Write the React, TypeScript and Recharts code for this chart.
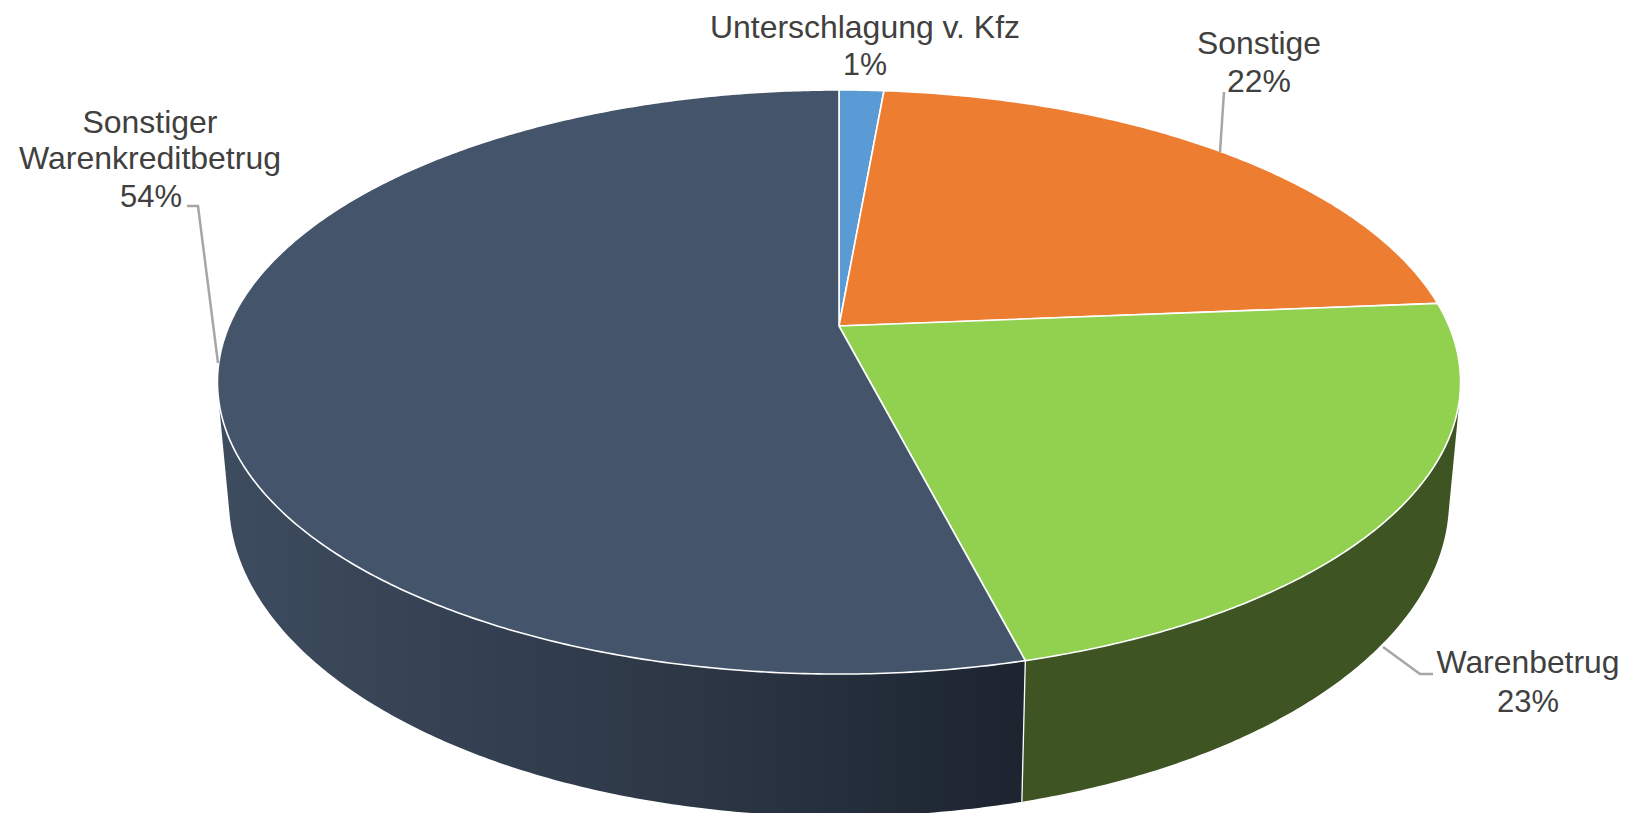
import React from "react";
import { PieChart, Pie } from "recharts";

const categories = ["Unterschlagung v. Kfz", "Sonstige", "Warenbetrug", "Sonstiger Warenkreditbetrug"];
const values = [1.4, 22.3, 22.3, 54.0];
const percentLabels = ["1%", "22%", "23%", "54%"];
const topColors = ["#5b9bd5", "#ed7d31", "#92d050", "#44546a"];
const wallColors = ["#375d81", "#8f4c1d", "#3e5423", "url(#navyWall)"];

// Label layout, per slice: text lines with centre, baseline and width, and the leader line.
const labelLayout = [
  { lines: [["Unterschlagung v. Kfz", 865, 38, 310], ["1%", 865, 75, 44]], leader: "" },
  { lines: [["Sonstige", 1259, 54, 124], ["22%", 1259, 92, 64]], leader: "1224,92 1220,152" },
  { lines: [["Warenbetrug", 1528, 673, 183], ["23%", 1528, 712, 62]], leader: "1383,647 1420,674 1433,674" },
  {
    lines: [["Sonstiger", 150, 133, 135], ["Warenkreditbetrug", 150, 169, 262], ["54%", 151, 207, 62]],
    leader: "187,206 198,206 218,363",
  },
];

const rows = categories.map((name, i) => ({
  name,
  value: values[i],
  fill: topColors[i],
  wall: wallColors[i],
  percent: percentLabels[i],
}));

const CX = 839;
const CY = 326;
const RADIUS = 300;
const K = -0.1918;
// Perspective of the top disc and of the smaller, lower rim.
const TOP = { dy: 0, q: 610, p: 281.3 };
const BOTTOM = { dy: 113.5, q: 598.7, p: 304.5 };

type Disc = typeof TOP;
const RAD = Math.PI / 180;

function project(cx: number, cy: number, disc: Disc, angle: number, r = 1): [number, number] {
  const x = Math.cos(angle * RAD) * r;
  const y = -Math.sin(angle * RAD) * r;
  const w = 1 + K * y;
  return [cx + (disc.q * x) / w, cy + disc.dy + (disc.p * y) / w];
}

function anglesBetween(start: number, end: number): number[] {
  const steps = Math.max(2, Math.ceil(Math.abs(end - start) / 0.5));
  const out: number[] = [];
  for (let i = 0; i <= steps; i++) out.push(start + ((end - start) * i) / steps);
  return out;
}

function TopSector(props: any) {
  const { cx, cy, startAngle, endAngle, fill } = props;
  const arc = anglesBetween(startAngle, endAngle).map((a) => project(cx, cy, TOP, a));
  const d = `M${cx},${cy}L` + arc.map((p) => `${p[0].toFixed(2)},${p[1].toFixed(2)}`).join("L") + "Z";
  return <path d={d} fill={fill} stroke="#ffffff" strokeWidth={1.6} strokeLinejoin="round" />;
}

function WallSector(props: any) {
  const { cx, cy, startAngle, endAngle } = props;
  const wall = props.wall ?? props.payload?.wall;
  const angles = anglesBetween(startAngle, endAngle);
  let d = "";
  for (let i = 0; i < angles.length - 1; i++) {
    const quad = [
      project(cx, cy, TOP, angles[i]),
      project(cx, cy, TOP, angles[i + 1]),
      project(cx, cy, BOTTOM, angles[i + 1]),
      project(cx, cy, BOTTOM, angles[i]),
    ];
    let area = 0;
    quad.forEach((p, j) => {
      const n = quad[(j + 1) % 4];
      area += p[0] * n[1] - n[0] * p[1];
    });
    if (area < 0) quad.reverse();
    d += "M" + quad.map((p) => `${p[0].toFixed(2)},${p[1].toFixed(2)}`).join("L") + "Z";
  }
  const a = project(cx, cy, TOP, startAngle);
  const b = project(cx, cy, BOTTOM, startAngle);
  return (
    <g>
      <defs>
        <linearGradient id="navyWall" gradientUnits="userSpaceOnUse" x1={218} y1={0} x2={1024} y2={0}>
          <stop offset="0" stopColor="#3d4c5f" />
          <stop offset="0.6" stopColor="#2c3645" />
          <stop offset="1" stopColor="#1c2430" />
        </linearGradient>
      </defs>
      <path d={d} fill={wall} fillRule="nonzero" stroke="none" />
      <line x1={a[0]} y1={a[1]} x2={b[0]} y2={b[1]} stroke="#ffffff" strokeWidth={1.3} />
    </g>
  );
}

function SliceLabel(props: any) {
  const { index } = props;
  const layout = labelLayout[index];
  const row = rows[index];
  return (
    <g>
      {layout.leader && <polyline points={layout.leader} fill="none" stroke="#a6a6a6" strokeWidth={2.5} />}
      {layout.lines.map((line: any, i: number) => (
        <text
          key={i}
          x={line[1]}
          y={line[2]}
          textAnchor="middle"
          fontFamily="'Liberation Sans', Arial, sans-serif"
          fontSize={32}
          fill="#404040"
          textLength={line[3]}
          lengthAdjust="spacingAndGlyphs"
        >
          {i === layout.lines.length - 1 ? row.percent : line[0]}
        </text>
      ))}
    </g>
  );
}

export default function App() {
  return (
    <div style={{ position: "absolute", left: 0, top: 0, width: 1630, height: 813, overflow: "hidden", background: "#fff" }}>
      <PieChart width={1630} height={813} margin={{ top: 0, right: 0, bottom: 0, left: 0 }}>
        <Pie
          data={rows}
          dataKey="value"
          nameKey="name"
          cx={CX}
          cy={CY}
          innerRadius={0}
          outerRadius={RADIUS}
          startAngle={90}
          endAngle={-270}
          isAnimationActive={false}
          shape={WallSector}
          stroke="none"
          label={false}
          labelLine={false}
        />
        <Pie
          data={rows}
          dataKey="value"
          nameKey="name"
          cx={CX}
          cy={CY}
          innerRadius={0}
          outerRadius={RADIUS}
          startAngle={90}
          endAngle={-270}
          isAnimationActive={false}
          shape={TopSector}
          label={SliceLabel}
          labelLine={false}
        />
      </PieChart>
    </div>
  );
}
